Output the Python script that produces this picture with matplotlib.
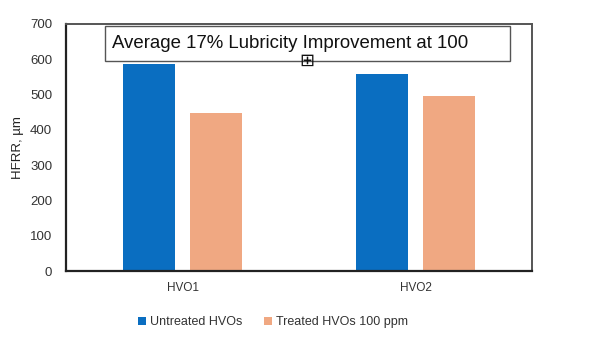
import matplotlib
matplotlib.use("Agg")
import matplotlib.pyplot as plt
from matplotlib.patches import Rectangle
import numpy as np

categories = ["HVO1", "HVO2"]
untreated = [586, 558]
treated = [447, 496]
series_names = ["Untreated HVOs", "Treated HVOs 100 ppm"]
yticks = [0, 100, 200, 300, 400, 500, 600, 700]
title_text = "Average 17% Lubricity Improvement at 100"

plt.rcParams['font.family'] = ['Liberation Sans', 'DejaVu Sans']

fig = plt.figure(figsize=(6.0, 3.43), dpi=100)
ax = fig.add_axes([66/600, 1-271/343, 466/600, 247/343])

x = np.arange(len(categories))
w = 0.223
off = 0.144
b1 = ax.bar(x - off, untreated, w, color="#0a6ec1", label=series_names[0])
b2 = ax.bar(x + off, treated, w, color="#f0a882", label=series_names[1])

ax.set_xlim(-0.5, 1.5)
ax.set_ylim(0, 700)
ax.set_yticks(yticks)
ax.set_xticks(x)
ax.set_xticklabels(categories, fontsize=9, color="#333333")
ax.tick_params(axis='both', length=0, labelsize=9.5, colors="#333333")
ax.tick_params(axis='x', pad=8, labelsize=8.5)
ax.tick_params(axis='y', pad=10)
ax.set_ylabel("HFRR, µm", fontsize=9.5, color="#222222", labelpad=4)

for s in ["left", "bottom"]:
    ax.spines[s].set_color("#222222")
    ax.spines[s].set_linewidth(1.6)
for s in ["top", "right"]:
    ax.spines[s].set_color("#555555")
    ax.spines[s].set_linewidth(1.4)

# annotation box
fig.patches.append(Rectangle((105/600, 1-61/343), 405/600, 35/343,
                             transform=fig.transFigure, facecolor="white",
                             edgecolor="#555555", linewidth=1.0, zorder=5))
fig.text(112/600, 1-44/343, title_text, fontsize=13.4, color="#111111",
         va="center", ha="left", zorder=6)
fig.text(307/600, 1-61/343, "⊞", fontsize=13, color="#111111",
         va="center", ha="center", family=["DejaVu Sans"], zorder=7)

fig.legend(handles=[b1, b2], labels=series_names, loc="center",
           bbox_to_anchor=(273/600, 1-322/343), ncol=2, frameon=False,
           fontsize=9, handlelength=0.6, handleheight=0.6,
           handletextpad=0.3, columnspacing=1.8, labelcolor="#333333")

fig.savefig("out.png", dpi=100)
